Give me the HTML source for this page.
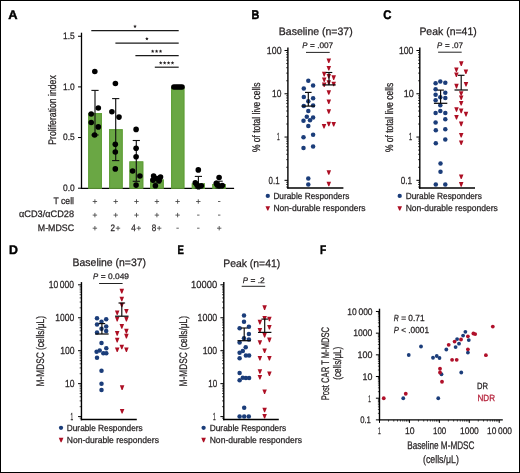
<!DOCTYPE html>
<html><head><meta charset="utf-8"><style>
html,body{margin:0;padding:0;background:#fff;}
svg{display:block;will-change:transform;}
text{font-family:"Liberation Sans",sans-serif;text-rendering:geometricPrecision;}
</style></head><body>
<svg width="520" height="473" viewBox="0 0 520 473">
<rect x="0" y="0" width="520" height="473" fill="#fff"/>
<text x="8.30" y="18.60" font-size="12.5" textLength="9.30" lengthAdjust="spacingAndGlyphs" font-weight="bold" fill="#000" stroke="#000" stroke-width="0.45">A</text>
<line x1="81.50" y1="32.70" x2="81.50" y2="189.00" stroke="#000000" stroke-width="1.3"/>
<line x1="80.90" y1="188.40" x2="234.10" y2="188.40" stroke="#000000" stroke-width="1.3"/>
<line x1="78.00" y1="36.25" x2="81.50" y2="36.25" stroke="#000000" stroke-width="1.0"/>
<text x="63.10" y="38.95" font-size="9.4" textLength="11.70" lengthAdjust="spacingAndGlyphs" fill="#231f20" stroke="#231f20" stroke-width="0.25">1.5</text>
<line x1="78.00" y1="86.90" x2="81.50" y2="86.90" stroke="#000000" stroke-width="1.0"/>
<text x="63.10" y="89.60" font-size="9.4" textLength="11.70" lengthAdjust="spacingAndGlyphs" fill="#231f20" stroke="#231f20" stroke-width="0.25">1.0</text>
<line x1="78.00" y1="137.55" x2="81.50" y2="137.55" stroke="#000000" stroke-width="1.0"/>
<text x="63.10" y="140.25" font-size="9.4" textLength="11.70" lengthAdjust="spacingAndGlyphs" fill="#231f20" stroke="#231f20" stroke-width="0.25">0.5</text>
<line x1="78.00" y1="188.20" x2="81.50" y2="188.20" stroke="#000000" stroke-width="1.0"/>
<text x="63.10" y="190.90" font-size="9.4" textLength="11.70" lengthAdjust="spacingAndGlyphs" fill="#231f20" stroke="#231f20" stroke-width="0.25">0.0</text>
<text transform="translate(55.80,144.70) rotate(-90)" x="0" y="0" font-size="11.0" textLength="69.50" lengthAdjust="spacingAndGlyphs" fill="#231f20" stroke="#231f20" stroke-width="0.25">Proliferation index</text>
<rect x="88.20" y="113.10" width="13.80" height="75.10" fill="#6aa744"/>
<rect x="88.80" y="113.70" width="12.60" height="74.50" fill="none" stroke="#62a03a" stroke-width="1.2"/>
<rect x="109.00" y="129.20" width="13.70" height="59.00" fill="#6aa744"/>
<rect x="109.60" y="129.80" width="12.50" height="58.40" fill="none" stroke="#62a03a" stroke-width="1.2"/>
<rect x="129.40" y="161.40" width="13.90" height="26.80" fill="#6aa744"/>
<rect x="130.00" y="162.00" width="12.70" height="26.20" fill="none" stroke="#62a03a" stroke-width="1.2"/>
<rect x="150.10" y="179.50" width="13.70" height="8.70" fill="#6aa744"/>
<rect x="150.70" y="180.10" width="12.50" height="8.10" fill="none" stroke="#62a03a" stroke-width="1.2"/>
<rect x="171.00" y="87.00" width="13.40" height="101.20" fill="#6aa744"/>
<rect x="171.60" y="87.60" width="12.20" height="100.60" fill="none" stroke="#62a03a" stroke-width="1.2"/>
<rect x="191.80" y="183.40" width="13.20" height="4.80" fill="#6aa744"/>
<rect x="192.40" y="184.00" width="12.00" height="4.20" fill="none" stroke="#62a03a" stroke-width="1.2"/>
<rect x="212.30" y="184.00" width="13.50" height="4.20" fill="#6aa744"/>
<rect x="212.90" y="184.60" width="12.30" height="3.60" fill="none" stroke="#62a03a" stroke-width="1.2"/>
<line x1="95.00" y1="90.40" x2="95.00" y2="135.00" stroke="#111" stroke-width="1.15"/>
<line x1="91.40" y1="90.40" x2="98.60" y2="90.40" stroke="#111" stroke-width="1.1"/>
<line x1="91.40" y1="135.00" x2="98.60" y2="135.00" stroke="#111" stroke-width="1.1"/>
<line x1="115.70" y1="98.60" x2="115.70" y2="160.60" stroke="#111" stroke-width="1.15"/>
<line x1="112.10" y1="98.60" x2="119.30" y2="98.60" stroke="#111" stroke-width="1.1"/>
<line x1="112.10" y1="160.60" x2="119.30" y2="160.60" stroke="#111" stroke-width="1.1"/>
<line x1="136.30" y1="140.50" x2="136.30" y2="181.30" stroke="#111" stroke-width="1.15"/>
<line x1="132.70" y1="140.50" x2="139.90" y2="140.50" stroke="#111" stroke-width="1.1"/>
<line x1="132.70" y1="181.30" x2="139.90" y2="181.30" stroke="#111" stroke-width="1.1"/>
<line x1="157.00" y1="176.50" x2="157.00" y2="183.00" stroke="#111" stroke-width="1.15"/>
<line x1="153.40" y1="176.50" x2="160.60" y2="176.50" stroke="#111" stroke-width="1.1"/>
<line x1="153.40" y1="183.00" x2="160.60" y2="183.00" stroke="#111" stroke-width="1.1"/>
<line x1="198.40" y1="176.40" x2="198.40" y2="188.00" stroke="#111" stroke-width="1.15"/>
<line x1="194.80" y1="176.40" x2="202.00" y2="176.40" stroke="#111" stroke-width="1.1"/>
<line x1="194.80" y1="188.00" x2="202.00" y2="188.00" stroke="#111" stroke-width="1.1"/>
<line x1="219.10" y1="181.20" x2="219.10" y2="188.00" stroke="#111" stroke-width="1.15"/>
<line x1="215.50" y1="181.20" x2="222.70" y2="181.20" stroke="#111" stroke-width="1.1"/>
<line x1="215.50" y1="188.00" x2="222.70" y2="188.00" stroke="#111" stroke-width="1.1"/>
<circle cx="94.80" cy="71.50" r="2.8" fill="#000000"/>
<circle cx="98.30" cy="108.00" r="2.8" fill="#000000"/>
<circle cx="91.20" cy="114.00" r="2.8" fill="#000000"/>
<circle cx="91.20" cy="122.50" r="2.8" fill="#000000"/>
<circle cx="98.30" cy="126.90" r="2.8" fill="#000000"/>
<circle cx="94.60" cy="135.00" r="2.8" fill="#000000"/>
<circle cx="115.40" cy="83.50" r="2.8" fill="#000000"/>
<circle cx="111.90" cy="111.70" r="2.8" fill="#000000"/>
<circle cx="119.00" cy="117.10" r="2.8" fill="#000000"/>
<circle cx="115.30" cy="144.20" r="2.8" fill="#000000"/>
<circle cx="115.30" cy="152.00" r="2.8" fill="#000000"/>
<circle cx="115.30" cy="168.90" r="2.8" fill="#000000"/>
<circle cx="136.10" cy="129.40" r="2.8" fill="#000000"/>
<circle cx="136.10" cy="148.20" r="2.8" fill="#000000"/>
<circle cx="136.10" cy="156.80" r="2.8" fill="#000000"/>
<circle cx="132.60" cy="171.00" r="2.8" fill="#000000"/>
<circle cx="139.90" cy="176.00" r="2.8" fill="#000000"/>
<circle cx="136.10" cy="185.10" r="2.8" fill="#000000"/>
<circle cx="153.60" cy="176.00" r="2.8" fill="#000000"/>
<circle cx="160.50" cy="177.10" r="2.8" fill="#000000"/>
<circle cx="152.90" cy="180.10" r="2.8" fill="#000000"/>
<circle cx="159.20" cy="180.60" r="2.8" fill="#000000"/>
<circle cx="156.70" cy="178.60" r="2.8" fill="#000000"/>
<circle cx="155.40" cy="185.80" r="2.8" fill="#000000"/>
<circle cx="173.90" cy="87.00" r="2.8" fill="#000000"/>
<circle cx="176.00" cy="87.00" r="2.8" fill="#000000"/>
<circle cx="178.00" cy="87.00" r="2.8" fill="#000000"/>
<circle cx="180.00" cy="87.00" r="2.8" fill="#000000"/>
<circle cx="182.00" cy="87.00" r="2.8" fill="#000000"/>
<circle cx="198.30" cy="169.90" r="2.8" fill="#000000"/>
<circle cx="195.30" cy="182.80" r="2.8" fill="#000000"/>
<circle cx="196.90" cy="184.80" r="2.8" fill="#000000"/>
<circle cx="198.50" cy="186.80" r="2.8" fill="#000000"/>
<circle cx="201.30" cy="185.80" r="2.8" fill="#000000"/>
<circle cx="219.10" cy="177.50" r="2.8" fill="#000000"/>
<circle cx="216.30" cy="183.20" r="2.8" fill="#000000"/>
<circle cx="217.10" cy="184.80" r="2.8" fill="#000000"/>
<circle cx="219.10" cy="186.00" r="2.8" fill="#000000"/>
<circle cx="222.30" cy="185.60" r="2.8" fill="#000000"/>
<line x1="91.30" y1="30.70" x2="178.70" y2="30.70" stroke="#1a1a1a" stroke-width="1.2"/>
<polygon points="135.00,24.55 135.50,25.71 136.76,25.83 135.81,26.66 136.09,27.90 135.00,27.25 133.91,27.90 134.19,26.66 133.24,25.83 134.50,25.71" fill="#231f20"/>
<line x1="115.40" y1="43.10" x2="178.70" y2="43.10" stroke="#1a1a1a" stroke-width="1.2"/>
<polygon points="146.90,36.95 147.40,38.11 148.66,38.23 147.71,39.06 147.99,40.30 146.90,39.65 145.81,40.30 146.09,39.06 145.14,38.23 146.40,38.11" fill="#231f20"/>
<line x1="135.40" y1="55.60" x2="178.70" y2="55.60" stroke="#1a1a1a" stroke-width="1.2"/>
<polygon points="152.67,49.45 153.17,50.61 154.43,50.73 153.48,51.56 153.76,52.80 152.67,52.15 151.58,52.80 151.86,51.56 150.91,50.73 152.17,50.61" fill="#231f20"/>
<polygon points="156.60,49.45 157.10,50.61 158.36,50.73 157.41,51.56 157.69,52.80 156.60,52.15 155.51,52.80 155.79,51.56 154.84,50.73 156.10,50.61" fill="#231f20"/>
<polygon points="160.53,49.45 161.03,50.61 162.29,50.73 161.34,51.56 161.62,52.80 160.53,52.15 159.44,52.80 159.72,51.56 158.77,50.73 160.03,50.61" fill="#231f20"/>
<line x1="154.80" y1="67.20" x2="178.70" y2="67.20" stroke="#1a1a1a" stroke-width="1.2"/>
<polygon points="160.70,61.05 161.20,62.21 162.46,62.33 161.51,63.16 161.79,64.40 160.70,63.75 159.62,64.40 159.90,63.16 158.95,62.33 160.21,62.21" fill="#231f20"/>
<polygon points="164.63,61.05 165.13,62.21 166.39,62.33 165.44,63.16 165.72,64.40 164.63,63.75 163.55,64.40 163.83,63.16 162.88,62.33 164.14,62.21" fill="#231f20"/>
<polygon points="168.56,61.05 169.06,62.21 170.32,62.33 169.37,63.16 169.65,64.40 168.56,63.75 167.48,64.40 167.76,63.16 166.81,62.33 168.07,62.21" fill="#231f20"/>
<polygon points="172.50,61.05 172.99,62.21 174.25,62.33 173.30,63.16 173.58,64.40 172.50,63.75 171.41,64.40 171.69,63.16 170.74,62.33 172.00,62.21" fill="#231f20"/>
<text x="53.50" y="203.90" font-size="9.4" textLength="20.50" lengthAdjust="spacingAndGlyphs" fill="#231f20" stroke="#231f20" stroke-width="0.25">T cell</text>
<text x="19.00" y="217.40" font-size="9.4" textLength="55.00" lengthAdjust="spacingAndGlyphs" fill="#231f20" stroke="#231f20" stroke-width="0.25">αCD3/αCD28</text>
<text x="37.80" y="230.70" font-size="9.4" textLength="36.20" lengthAdjust="spacingAndGlyphs" fill="#231f20" stroke="#231f20" stroke-width="0.25">M-MDSC</text>
<line x1="92.70" y1="201.50" x2="97.10" y2="201.50" stroke="#444" stroke-width="0.85"/>
<line x1="94.90" y1="199.30" x2="94.90" y2="203.70" stroke="#444" stroke-width="0.85"/>
<line x1="113.50" y1="201.50" x2="117.90" y2="201.50" stroke="#444" stroke-width="0.85"/>
<line x1="115.70" y1="199.30" x2="115.70" y2="203.70" stroke="#444" stroke-width="0.85"/>
<line x1="134.30" y1="201.50" x2="138.70" y2="201.50" stroke="#444" stroke-width="0.85"/>
<line x1="136.50" y1="199.30" x2="136.50" y2="203.70" stroke="#444" stroke-width="0.85"/>
<line x1="154.70" y1="201.50" x2="159.10" y2="201.50" stroke="#444" stroke-width="0.85"/>
<line x1="156.90" y1="199.30" x2="156.90" y2="203.70" stroke="#444" stroke-width="0.85"/>
<line x1="175.40" y1="201.50" x2="179.80" y2="201.50" stroke="#444" stroke-width="0.85"/>
<line x1="177.60" y1="199.30" x2="177.60" y2="203.70" stroke="#444" stroke-width="0.85"/>
<line x1="196.10" y1="201.50" x2="200.50" y2="201.50" stroke="#444" stroke-width="0.85"/>
<line x1="198.30" y1="199.30" x2="198.30" y2="203.70" stroke="#444" stroke-width="0.85"/>
<line x1="218.00" y1="201.50" x2="220.40" y2="201.50" stroke="#444" stroke-width="0.85"/>
<line x1="92.70" y1="215.10" x2="97.10" y2="215.10" stroke="#444" stroke-width="0.85"/>
<line x1="94.90" y1="212.90" x2="94.90" y2="217.30" stroke="#444" stroke-width="0.85"/>
<line x1="113.50" y1="215.10" x2="117.90" y2="215.10" stroke="#444" stroke-width="0.85"/>
<line x1="115.70" y1="212.90" x2="115.70" y2="217.30" stroke="#444" stroke-width="0.85"/>
<line x1="134.30" y1="215.10" x2="138.70" y2="215.10" stroke="#444" stroke-width="0.85"/>
<line x1="136.50" y1="212.90" x2="136.50" y2="217.30" stroke="#444" stroke-width="0.85"/>
<line x1="154.70" y1="215.10" x2="159.10" y2="215.10" stroke="#444" stroke-width="0.85"/>
<line x1="156.90" y1="212.90" x2="156.90" y2="217.30" stroke="#444" stroke-width="0.85"/>
<line x1="175.40" y1="215.10" x2="179.80" y2="215.10" stroke="#444" stroke-width="0.85"/>
<line x1="177.60" y1="212.90" x2="177.60" y2="217.30" stroke="#444" stroke-width="0.85"/>
<line x1="197.10" y1="215.10" x2="199.50" y2="215.10" stroke="#444" stroke-width="0.85"/>
<line x1="218.00" y1="215.10" x2="220.40" y2="215.10" stroke="#444" stroke-width="0.85"/>
<line x1="92.70" y1="228.20" x2="97.10" y2="228.20" stroke="#444" stroke-width="0.85"/>
<line x1="94.90" y1="226.00" x2="94.90" y2="230.40" stroke="#444" stroke-width="0.85"/>
<text x="110.50" y="230.80" font-size="9.4" textLength="4.50" lengthAdjust="spacingAndGlyphs" fill="#231f20" stroke="#231f20" stroke-width="0.25">2</text>
<line x1="115.80" y1="228.20" x2="120.20" y2="228.20" stroke="#444" stroke-width="0.85"/>
<line x1="118.00" y1="226.00" x2="118.00" y2="230.40" stroke="#444" stroke-width="0.85"/>
<text x="131.30" y="230.80" font-size="9.4" textLength="4.50" lengthAdjust="spacingAndGlyphs" fill="#231f20" stroke="#231f20" stroke-width="0.25">4</text>
<line x1="136.60" y1="228.20" x2="141.00" y2="228.20" stroke="#444" stroke-width="0.85"/>
<line x1="138.80" y1="226.00" x2="138.80" y2="230.40" stroke="#444" stroke-width="0.85"/>
<text x="151.70" y="230.80" font-size="9.4" textLength="4.50" lengthAdjust="spacingAndGlyphs" fill="#231f20" stroke="#231f20" stroke-width="0.25">8</text>
<line x1="157.00" y1="228.20" x2="161.40" y2="228.20" stroke="#444" stroke-width="0.85"/>
<line x1="159.20" y1="226.00" x2="159.20" y2="230.40" stroke="#444" stroke-width="0.85"/>
<line x1="176.40" y1="228.20" x2="178.80" y2="228.20" stroke="#444" stroke-width="0.85"/>
<line x1="197.10" y1="228.20" x2="199.50" y2="228.20" stroke="#444" stroke-width="0.85"/>
<line x1="217.00" y1="228.20" x2="221.40" y2="228.20" stroke="#444" stroke-width="0.85"/>
<line x1="219.20" y1="226.00" x2="219.20" y2="230.40" stroke="#444" stroke-width="0.85"/>
<text x="251.40" y="18.80" font-size="12.6" textLength="7.80" lengthAdjust="spacingAndGlyphs" font-weight="bold" fill="#000" stroke="#000" stroke-width="0.45">B</text>
<text x="278.80" y="34.95" font-size="10.8" textLength="73.90" lengthAdjust="spacingAndGlyphs" fill="#231f20" stroke="#231f20" stroke-width="0.25">Baseline (n=37)</text>
<text x="302.30" y="47.65" font-size="8.0" textLength="5.20" lengthAdjust="spacingAndGlyphs" font-style="italic" fill="#231f20" stroke="#231f20" stroke-width="0.25">P</text>
<text x="310.10" y="47.65" font-size="8.0" textLength="23.10" lengthAdjust="spacingAndGlyphs" fill="#231f20" stroke="#231f20" stroke-width="0.25">= .007</text>
<line x1="306.00" y1="52.40" x2="329.70" y2="52.40" stroke="#222" stroke-width="1.0"/>
<line x1="287.90" y1="47.60" x2="287.90" y2="188.60" stroke="#000000" stroke-width="1.4"/>
<line x1="286.10" y1="187.02" x2="287.90" y2="187.02" stroke="#000000" stroke-width="0.7"/>
<line x1="286.10" y1="184.51" x2="287.90" y2="184.51" stroke="#000000" stroke-width="0.7"/>
<line x1="286.10" y1="182.30" x2="287.90" y2="182.30" stroke="#000000" stroke-width="0.7"/>
<line x1="284.50" y1="180.32" x2="287.90" y2="180.32" stroke="#000000" stroke-width="1.0"/>
<line x1="286.10" y1="167.29" x2="287.90" y2="167.29" stroke="#000000" stroke-width="0.7"/>
<line x1="286.10" y1="159.67" x2="287.90" y2="159.67" stroke="#000000" stroke-width="0.7"/>
<line x1="286.10" y1="154.27" x2="287.90" y2="154.27" stroke="#000000" stroke-width="0.7"/>
<line x1="286.10" y1="150.08" x2="287.90" y2="150.08" stroke="#000000" stroke-width="0.7"/>
<line x1="286.10" y1="146.65" x2="287.90" y2="146.65" stroke="#000000" stroke-width="0.7"/>
<line x1="286.10" y1="143.75" x2="287.90" y2="143.75" stroke="#000000" stroke-width="0.7"/>
<line x1="286.10" y1="141.24" x2="287.90" y2="141.24" stroke="#000000" stroke-width="0.7"/>
<line x1="286.10" y1="139.03" x2="287.90" y2="139.03" stroke="#000000" stroke-width="0.7"/>
<line x1="284.50" y1="137.05" x2="287.90" y2="137.05" stroke="#000000" stroke-width="1.0"/>
<line x1="286.10" y1="124.02" x2="287.90" y2="124.02" stroke="#000000" stroke-width="0.7"/>
<line x1="286.10" y1="116.40" x2="287.90" y2="116.40" stroke="#000000" stroke-width="0.7"/>
<line x1="286.10" y1="111.00" x2="287.90" y2="111.00" stroke="#000000" stroke-width="0.7"/>
<line x1="286.10" y1="106.81" x2="287.90" y2="106.81" stroke="#000000" stroke-width="0.7"/>
<line x1="286.10" y1="103.38" x2="287.90" y2="103.38" stroke="#000000" stroke-width="0.7"/>
<line x1="286.10" y1="100.48" x2="287.90" y2="100.48" stroke="#000000" stroke-width="0.7"/>
<line x1="286.10" y1="97.97" x2="287.90" y2="97.97" stroke="#000000" stroke-width="0.7"/>
<line x1="286.10" y1="95.76" x2="287.90" y2="95.76" stroke="#000000" stroke-width="0.7"/>
<line x1="284.50" y1="93.78" x2="287.90" y2="93.78" stroke="#000000" stroke-width="1.0"/>
<line x1="286.10" y1="80.75" x2="287.90" y2="80.75" stroke="#000000" stroke-width="0.7"/>
<line x1="286.10" y1="73.13" x2="287.90" y2="73.13" stroke="#000000" stroke-width="0.7"/>
<line x1="286.10" y1="67.73" x2="287.90" y2="67.73" stroke="#000000" stroke-width="0.7"/>
<line x1="286.10" y1="63.54" x2="287.90" y2="63.54" stroke="#000000" stroke-width="0.7"/>
<line x1="286.10" y1="60.11" x2="287.90" y2="60.11" stroke="#000000" stroke-width="0.7"/>
<line x1="286.10" y1="57.21" x2="287.90" y2="57.21" stroke="#000000" stroke-width="0.7"/>
<line x1="286.10" y1="54.70" x2="287.90" y2="54.70" stroke="#000000" stroke-width="0.7"/>
<line x1="286.10" y1="52.49" x2="287.90" y2="52.49" stroke="#000000" stroke-width="0.7"/>
<line x1="284.50" y1="50.51" x2="287.90" y2="50.51" stroke="#000000" stroke-width="1.0"/>
<text x="266.80" y="53.81" font-size="10.3" textLength="14.80" lengthAdjust="spacingAndGlyphs" fill="#231f20" stroke="#231f20" stroke-width="0.25">100</text>
<text x="272.00" y="97.08" font-size="10.3" textLength="9.40" lengthAdjust="spacingAndGlyphs" fill="#231f20" stroke="#231f20" stroke-width="0.25">10</text>
<text x="276.90" y="140.35" font-size="10.3" textLength="2.70" lengthAdjust="spacingAndGlyphs" fill="#231f20" stroke="#231f20" stroke-width="0.25">1</text>
<text x="268.60" y="183.62" font-size="10.3" textLength="11.00" lengthAdjust="spacingAndGlyphs" fill="#231f20" stroke="#231f20" stroke-width="0.25">0.1</text>
<line x1="287.20" y1="187.90" x2="343.40" y2="187.90" stroke="#000000" stroke-width="1.5"/>
<text transform="translate(259.90,152.00) rotate(-90)" x="0" y="0" font-size="11.0" textLength="69.40" lengthAdjust="spacingAndGlyphs" fill="#231f20" stroke="#231f20" stroke-width="0.25">% of total live cells</text>
<circle cx="308.30" cy="80.75" r="2.25" fill="#1b3d7a"/>
<circle cx="313.10" cy="85.55" r="2.25" fill="#1b3d7a"/>
<circle cx="303.80" cy="88.55" r="2.25" fill="#1b3d7a"/>
<circle cx="303.80" cy="96.95" r="2.25" fill="#1b3d7a"/>
<circle cx="313.10" cy="98.35" r="2.25" fill="#1b3d7a"/>
<circle cx="308.30" cy="101.15" r="2.25" fill="#1b3d7a"/>
<circle cx="303.80" cy="105.95" r="2.25" fill="#1b3d7a"/>
<circle cx="313.10" cy="105.55" r="2.25" fill="#1b3d7a"/>
<circle cx="308.30" cy="110.95" r="2.25" fill="#1b3d7a"/>
<circle cx="306.80" cy="116.85" r="2.25" fill="#1b3d7a"/>
<circle cx="313.10" cy="117.45" r="2.25" fill="#1b3d7a"/>
<circle cx="303.50" cy="120.75" r="2.25" fill="#1b3d7a"/>
<circle cx="310.00" cy="120.25" r="2.25" fill="#1b3d7a"/>
<circle cx="308.30" cy="126.05" r="2.25" fill="#1b3d7a"/>
<circle cx="303.50" cy="137.25" r="2.25" fill="#1b3d7a"/>
<circle cx="313.10" cy="134.85" r="2.25" fill="#1b3d7a"/>
<circle cx="303.50" cy="147.95" r="2.25" fill="#1b3d7a"/>
<circle cx="313.10" cy="146.45" r="2.25" fill="#1b3d7a"/>
<circle cx="308.30" cy="178.55" r="2.25" fill="#1b3d7a"/>
<circle cx="308.30" cy="184.45" r="2.25" fill="#1b3d7a"/>
<path d="M326.55,58.40L331.05,58.40L329.25,63.00L328.35,63.00Z" fill="#ad0f24"/>
<path d="M326.55,66.00L331.05,66.00L329.25,70.60L328.35,70.60Z" fill="#ad0f24"/>
<path d="M321.95,71.80L326.45,71.80L324.65,76.40L323.75,76.40Z" fill="#ad0f24"/>
<path d="M326.55,74.00L331.05,74.00L329.25,78.60L328.35,78.60Z" fill="#ad0f24"/>
<path d="M331.45,75.30L335.95,75.30L334.15,79.90L333.25,79.90Z" fill="#ad0f24"/>
<path d="M321.95,77.40L326.45,77.40L324.65,82.00L323.75,82.00Z" fill="#ad0f24"/>
<path d="M326.55,80.20L331.05,80.20L329.25,84.80L328.35,84.80Z" fill="#ad0f24"/>
<path d="M331.45,81.70L335.95,81.70L334.15,86.30L333.25,86.30Z" fill="#ad0f24"/>
<path d="M321.95,82.50L326.45,82.50L324.65,87.10L323.75,87.10Z" fill="#ad0f24"/>
<path d="M326.55,90.20L331.05,90.20L329.25,94.80L328.35,94.80Z" fill="#ad0f24"/>
<path d="M326.55,99.40L331.05,99.40L329.25,104.00L328.35,104.00Z" fill="#ad0f24"/>
<path d="M326.55,109.20L331.05,109.20L329.25,113.80L328.35,113.80Z" fill="#ad0f24"/>
<path d="M321.75,124.00L326.25,124.00L324.45,128.60L323.55,128.60Z" fill="#ad0f24"/>
<path d="M326.55,121.70L331.05,121.70L329.25,126.30L328.35,126.30Z" fill="#ad0f24"/>
<path d="M331.45,122.00L335.95,122.00L334.15,126.60L333.25,126.60Z" fill="#ad0f24"/>
<path d="M326.55,170.20L331.05,170.20L329.25,174.80L328.35,174.80Z" fill="#ad0f24"/>
<path d="M326.55,181.70L331.05,181.70L329.25,186.30L328.35,186.30Z" fill="#ad0f24"/>
<line x1="308.30" y1="92.40" x2="308.30" y2="106.10" stroke="#0a0a0a" stroke-width="1.15"/>
<line x1="305.00" y1="92.40" x2="311.60" y2="92.40" stroke="#0a0a0a" stroke-width="1.15"/>
<line x1="301.60" y1="106.10" x2="315.00" y2="106.10" stroke="#0a0a0a" stroke-width="1.25"/>
<line x1="329.00" y1="72.50" x2="329.00" y2="84.90" stroke="#0a0a0a" stroke-width="1.15"/>
<line x1="325.70" y1="72.50" x2="332.30" y2="72.50" stroke="#0a0a0a" stroke-width="1.15"/>
<line x1="322.30" y1="84.90" x2="335.70" y2="84.90" stroke="#0a0a0a" stroke-width="1.25"/>
<circle cx="267.80" cy="195.90" r="2.15" fill="#1b3d7a"/>
<text x="273.40" y="198.80" font-size="8.9" textLength="75.90" lengthAdjust="spacingAndGlyphs" fill="#231f20" stroke="#231f20" stroke-width="0.25">Durable Responders</text>
<path d="M265.50,206.15L270.10,206.15L268.25,210.45L267.35,210.45Z" fill="#ad0f24"/>
<text x="273.40" y="211.10" font-size="8.9" textLength="92.20" lengthAdjust="spacingAndGlyphs" fill="#231f20" stroke="#231f20" stroke-width="0.25">Non-durable responders</text>
<text x="383.30" y="18.80" font-size="12.6" textLength="8.20" lengthAdjust="spacingAndGlyphs" font-weight="bold" fill="#000" stroke="#000" stroke-width="0.45">C</text>
<text x="419.40" y="34.90" font-size="10.8" textLength="57.30" lengthAdjust="spacingAndGlyphs" fill="#231f20" stroke="#231f20" stroke-width="0.25">Peak (n=41)</text>
<text x="437.10" y="47.65" font-size="8.0" textLength="5.20" lengthAdjust="spacingAndGlyphs" font-style="italic" fill="#231f20" stroke="#231f20" stroke-width="0.25">P</text>
<text x="444.90" y="47.65" font-size="8.0" textLength="18.20" lengthAdjust="spacingAndGlyphs" fill="#231f20" stroke="#231f20" stroke-width="0.25">= .07</text>
<line x1="438.10" y1="52.20" x2="461.70" y2="52.20" stroke="#222" stroke-width="1.0"/>
<line x1="419.80" y1="47.60" x2="419.80" y2="188.80" stroke="#000000" stroke-width="1.4"/>
<line x1="418.00" y1="187.02" x2="419.80" y2="187.02" stroke="#000000" stroke-width="0.7"/>
<line x1="418.00" y1="184.51" x2="419.80" y2="184.51" stroke="#000000" stroke-width="0.7"/>
<line x1="418.00" y1="182.30" x2="419.80" y2="182.30" stroke="#000000" stroke-width="0.7"/>
<line x1="416.40" y1="180.32" x2="419.80" y2="180.32" stroke="#000000" stroke-width="1.0"/>
<line x1="418.00" y1="167.29" x2="419.80" y2="167.29" stroke="#000000" stroke-width="0.7"/>
<line x1="418.00" y1="159.67" x2="419.80" y2="159.67" stroke="#000000" stroke-width="0.7"/>
<line x1="418.00" y1="154.27" x2="419.80" y2="154.27" stroke="#000000" stroke-width="0.7"/>
<line x1="418.00" y1="150.08" x2="419.80" y2="150.08" stroke="#000000" stroke-width="0.7"/>
<line x1="418.00" y1="146.65" x2="419.80" y2="146.65" stroke="#000000" stroke-width="0.7"/>
<line x1="418.00" y1="143.75" x2="419.80" y2="143.75" stroke="#000000" stroke-width="0.7"/>
<line x1="418.00" y1="141.24" x2="419.80" y2="141.24" stroke="#000000" stroke-width="0.7"/>
<line x1="418.00" y1="139.03" x2="419.80" y2="139.03" stroke="#000000" stroke-width="0.7"/>
<line x1="416.40" y1="137.05" x2="419.80" y2="137.05" stroke="#000000" stroke-width="1.0"/>
<line x1="418.00" y1="124.02" x2="419.80" y2="124.02" stroke="#000000" stroke-width="0.7"/>
<line x1="418.00" y1="116.40" x2="419.80" y2="116.40" stroke="#000000" stroke-width="0.7"/>
<line x1="418.00" y1="111.00" x2="419.80" y2="111.00" stroke="#000000" stroke-width="0.7"/>
<line x1="418.00" y1="106.81" x2="419.80" y2="106.81" stroke="#000000" stroke-width="0.7"/>
<line x1="418.00" y1="103.38" x2="419.80" y2="103.38" stroke="#000000" stroke-width="0.7"/>
<line x1="418.00" y1="100.48" x2="419.80" y2="100.48" stroke="#000000" stroke-width="0.7"/>
<line x1="418.00" y1="97.97" x2="419.80" y2="97.97" stroke="#000000" stroke-width="0.7"/>
<line x1="418.00" y1="95.76" x2="419.80" y2="95.76" stroke="#000000" stroke-width="0.7"/>
<line x1="416.40" y1="93.78" x2="419.80" y2="93.78" stroke="#000000" stroke-width="1.0"/>
<line x1="418.00" y1="80.75" x2="419.80" y2="80.75" stroke="#000000" stroke-width="0.7"/>
<line x1="418.00" y1="73.13" x2="419.80" y2="73.13" stroke="#000000" stroke-width="0.7"/>
<line x1="418.00" y1="67.73" x2="419.80" y2="67.73" stroke="#000000" stroke-width="0.7"/>
<line x1="418.00" y1="63.54" x2="419.80" y2="63.54" stroke="#000000" stroke-width="0.7"/>
<line x1="418.00" y1="60.11" x2="419.80" y2="60.11" stroke="#000000" stroke-width="0.7"/>
<line x1="418.00" y1="57.21" x2="419.80" y2="57.21" stroke="#000000" stroke-width="0.7"/>
<line x1="418.00" y1="54.70" x2="419.80" y2="54.70" stroke="#000000" stroke-width="0.7"/>
<line x1="418.00" y1="52.49" x2="419.80" y2="52.49" stroke="#000000" stroke-width="0.7"/>
<line x1="416.40" y1="50.51" x2="419.80" y2="50.51" stroke="#000000" stroke-width="1.0"/>
<text x="398.90" y="53.81" font-size="10.3" textLength="14.60" lengthAdjust="spacingAndGlyphs" fill="#231f20" stroke="#231f20" stroke-width="0.25">100</text>
<text x="403.70" y="97.08" font-size="10.3" textLength="10.10" lengthAdjust="spacingAndGlyphs" fill="#231f20" stroke="#231f20" stroke-width="0.25">10</text>
<text x="409.00" y="140.35" font-size="10.3" textLength="3.10" lengthAdjust="spacingAndGlyphs" fill="#231f20" stroke="#231f20" stroke-width="0.25">1</text>
<text x="400.70" y="183.62" font-size="10.3" textLength="11.40" lengthAdjust="spacingAndGlyphs" fill="#231f20" stroke="#231f20" stroke-width="0.25">0.1</text>
<line x1="419.10" y1="188.10" x2="475.00" y2="188.10" stroke="#000000" stroke-width="1.5"/>
<text transform="translate(392.50,152.00) rotate(-90)" x="0" y="0" font-size="11.0" textLength="69.20" lengthAdjust="spacingAndGlyphs" fill="#231f20" stroke="#231f20" stroke-width="0.25">% of total live cells</text>
<circle cx="435.60" cy="83.15" r="2.25" fill="#1b3d7a"/>
<circle cx="440.30" cy="81.55" r="2.25" fill="#1b3d7a"/>
<circle cx="445.30" cy="82.85" r="2.25" fill="#1b3d7a"/>
<circle cx="435.60" cy="89.25" r="2.25" fill="#1b3d7a"/>
<circle cx="445.30" cy="92.65" r="2.25" fill="#1b3d7a"/>
<circle cx="435.60" cy="94.85" r="2.25" fill="#1b3d7a"/>
<circle cx="440.30" cy="97.25" r="2.25" fill="#1b3d7a"/>
<circle cx="445.30" cy="97.95" r="2.25" fill="#1b3d7a"/>
<circle cx="435.60" cy="100.35" r="2.25" fill="#1b3d7a"/>
<circle cx="440.30" cy="105.35" r="2.25" fill="#1b3d7a"/>
<circle cx="440.30" cy="110.95" r="2.25" fill="#1b3d7a"/>
<circle cx="435.60" cy="113.05" r="2.25" fill="#1b3d7a"/>
<circle cx="445.30" cy="113.05" r="2.25" fill="#1b3d7a"/>
<circle cx="445.30" cy="119.15" r="2.25" fill="#1b3d7a"/>
<circle cx="435.60" cy="122.45" r="2.25" fill="#1b3d7a"/>
<circle cx="435.80" cy="130.15" r="2.25" fill="#1b3d7a"/>
<circle cx="445.30" cy="129.15" r="2.25" fill="#1b3d7a"/>
<circle cx="445.30" cy="139.45" r="2.25" fill="#1b3d7a"/>
<circle cx="435.80" cy="143.15" r="2.25" fill="#1b3d7a"/>
<circle cx="440.50" cy="163.45" r="2.25" fill="#1b3d7a"/>
<circle cx="440.50" cy="171.75" r="2.25" fill="#1b3d7a"/>
<circle cx="435.80" cy="184.55" r="2.25" fill="#1b3d7a"/>
<circle cx="445.30" cy="184.55" r="2.25" fill="#1b3d7a"/>
<path d="M459.05,61.30L463.55,61.30L461.75,65.90L460.85,65.90Z" fill="#ad0f24"/>
<path d="M454.15,67.40L458.65,67.40L456.85,72.00L455.95,72.00Z" fill="#ad0f24"/>
<path d="M463.65,69.50L468.15,69.50L466.35,74.10L465.45,74.10Z" fill="#ad0f24"/>
<path d="M454.15,72.40L458.65,72.40L456.85,77.00L455.95,77.00Z" fill="#ad0f24"/>
<path d="M463.75,81.90L468.25,81.90L466.45,86.50L465.55,86.50Z" fill="#ad0f24"/>
<path d="M454.25,83.80L458.75,83.80L456.95,88.40L456.05,88.40Z" fill="#ad0f24"/>
<path d="M458.95,91.20L463.45,91.20L461.65,95.80L460.75,95.80Z" fill="#ad0f24"/>
<path d="M458.95,95.40L463.45,95.40L461.65,100.00L460.75,100.00Z" fill="#ad0f24"/>
<path d="M458.95,100.90L463.45,100.90L461.65,105.50L460.75,105.50Z" fill="#ad0f24"/>
<path d="M454.25,107.20L458.75,107.20L456.95,111.80L456.05,111.80Z" fill="#ad0f24"/>
<path d="M458.95,108.60L463.45,108.60L461.65,113.20L460.75,113.20Z" fill="#ad0f24"/>
<path d="M463.75,111.80L468.25,111.80L466.45,116.40L465.55,116.40Z" fill="#ad0f24"/>
<path d="M454.25,115.00L458.75,115.00L456.95,119.60L456.05,119.60Z" fill="#ad0f24"/>
<path d="M458.95,121.60L463.45,121.60L461.65,126.20L460.75,126.20Z" fill="#ad0f24"/>
<path d="M458.95,133.00L463.45,133.00L461.65,137.60L460.75,137.60Z" fill="#ad0f24"/>
<path d="M458.95,140.40L463.45,140.40L461.65,145.00L460.75,145.00Z" fill="#ad0f24"/>
<path d="M458.95,174.40L463.45,174.40L461.65,179.00L460.75,179.00Z" fill="#ad0f24"/>
<path d="M458.95,182.10L463.45,182.10L461.65,186.70L460.75,186.70Z" fill="#ad0f24"/>
<line x1="440.60" y1="90.10" x2="440.60" y2="103.30" stroke="#0a0a0a" stroke-width="1.15"/>
<line x1="437.30" y1="90.10" x2="443.90" y2="90.10" stroke="#0a0a0a" stroke-width="1.15"/>
<line x1="433.90" y1="103.30" x2="447.30" y2="103.30" stroke="#0a0a0a" stroke-width="1.25"/>
<line x1="461.20" y1="75.30" x2="461.20" y2="90.00" stroke="#0a0a0a" stroke-width="1.15"/>
<line x1="457.90" y1="75.30" x2="464.50" y2="75.30" stroke="#0a0a0a" stroke-width="1.15"/>
<line x1="454.50" y1="90.00" x2="467.90" y2="90.00" stroke="#0a0a0a" stroke-width="1.25"/>
<circle cx="399.70" cy="195.90" r="2.15" fill="#1b3d7a"/>
<text x="405.70" y="198.80" font-size="8.9" textLength="76.10" lengthAdjust="spacingAndGlyphs" fill="#231f20" stroke="#231f20" stroke-width="0.25">Durable Responders</text>
<path d="M397.40,206.15L402.00,206.15L400.15,210.45L399.25,210.45Z" fill="#ad0f24"/>
<text x="405.70" y="211.10" font-size="8.9" textLength="92.10" lengthAdjust="spacingAndGlyphs" fill="#231f20" stroke="#231f20" stroke-width="0.25">Non-durable responders</text>
<text x="9.10" y="253.70" font-size="12.5" textLength="8.90" lengthAdjust="spacingAndGlyphs" font-weight="bold" fill="#000" stroke="#000" stroke-width="0.45">D</text>
<text x="72.60" y="266.40" font-size="10.8" textLength="73.40" lengthAdjust="spacingAndGlyphs" fill="#231f20" stroke="#231f20" stroke-width="0.25">Baseline (n=37)</text>
<text x="93.00" y="279.30" font-size="8.0" textLength="5.20" lengthAdjust="spacingAndGlyphs" font-style="italic" fill="#231f20" stroke="#231f20" stroke-width="0.25">P</text>
<text x="100.80" y="279.30" font-size="8.0" textLength="28.20" lengthAdjust="spacingAndGlyphs" fill="#231f20" stroke="#231f20" stroke-width="0.25">= 0.049</text>
<line x1="99.10" y1="283.50" x2="122.60" y2="283.50" stroke="#222" stroke-width="1.0"/>
<line x1="81.45" y1="282.10" x2="81.45" y2="420.30" stroke="#000000" stroke-width="1.4"/>
<line x1="79.65" y1="418.11" x2="81.45" y2="418.11" stroke="#000000" stroke-width="0.7"/>
<line x1="78.05" y1="416.60" x2="81.45" y2="416.60" stroke="#000000" stroke-width="1.0"/>
<line x1="79.65" y1="406.68" x2="81.45" y2="406.68" stroke="#000000" stroke-width="0.7"/>
<line x1="79.65" y1="400.88" x2="81.45" y2="400.88" stroke="#000000" stroke-width="0.7"/>
<line x1="79.65" y1="396.76" x2="81.45" y2="396.76" stroke="#000000" stroke-width="0.7"/>
<line x1="79.65" y1="393.57" x2="81.45" y2="393.57" stroke="#000000" stroke-width="0.7"/>
<line x1="79.65" y1="390.96" x2="81.45" y2="390.96" stroke="#000000" stroke-width="0.7"/>
<line x1="79.65" y1="388.75" x2="81.45" y2="388.75" stroke="#000000" stroke-width="0.7"/>
<line x1="79.65" y1="386.84" x2="81.45" y2="386.84" stroke="#000000" stroke-width="0.7"/>
<line x1="79.65" y1="385.16" x2="81.45" y2="385.16" stroke="#000000" stroke-width="0.7"/>
<line x1="78.05" y1="383.65" x2="81.45" y2="383.65" stroke="#000000" stroke-width="1.0"/>
<line x1="79.65" y1="373.73" x2="81.45" y2="373.73" stroke="#000000" stroke-width="0.7"/>
<line x1="79.65" y1="367.93" x2="81.45" y2="367.93" stroke="#000000" stroke-width="0.7"/>
<line x1="79.65" y1="363.81" x2="81.45" y2="363.81" stroke="#000000" stroke-width="0.7"/>
<line x1="79.65" y1="360.62" x2="81.45" y2="360.62" stroke="#000000" stroke-width="0.7"/>
<line x1="79.65" y1="358.01" x2="81.45" y2="358.01" stroke="#000000" stroke-width="0.7"/>
<line x1="79.65" y1="355.80" x2="81.45" y2="355.80" stroke="#000000" stroke-width="0.7"/>
<line x1="79.65" y1="353.89" x2="81.45" y2="353.89" stroke="#000000" stroke-width="0.7"/>
<line x1="79.65" y1="352.21" x2="81.45" y2="352.21" stroke="#000000" stroke-width="0.7"/>
<line x1="78.05" y1="350.70" x2="81.45" y2="350.70" stroke="#000000" stroke-width="1.0"/>
<line x1="79.65" y1="340.78" x2="81.45" y2="340.78" stroke="#000000" stroke-width="0.7"/>
<line x1="79.65" y1="334.98" x2="81.45" y2="334.98" stroke="#000000" stroke-width="0.7"/>
<line x1="79.65" y1="330.86" x2="81.45" y2="330.86" stroke="#000000" stroke-width="0.7"/>
<line x1="79.65" y1="327.67" x2="81.45" y2="327.67" stroke="#000000" stroke-width="0.7"/>
<line x1="79.65" y1="325.06" x2="81.45" y2="325.06" stroke="#000000" stroke-width="0.7"/>
<line x1="79.65" y1="322.85" x2="81.45" y2="322.85" stroke="#000000" stroke-width="0.7"/>
<line x1="79.65" y1="320.94" x2="81.45" y2="320.94" stroke="#000000" stroke-width="0.7"/>
<line x1="79.65" y1="319.26" x2="81.45" y2="319.26" stroke="#000000" stroke-width="0.7"/>
<line x1="78.05" y1="317.75" x2="81.45" y2="317.75" stroke="#000000" stroke-width="1.0"/>
<line x1="79.65" y1="307.83" x2="81.45" y2="307.83" stroke="#000000" stroke-width="0.7"/>
<line x1="79.65" y1="302.03" x2="81.45" y2="302.03" stroke="#000000" stroke-width="0.7"/>
<line x1="79.65" y1="297.91" x2="81.45" y2="297.91" stroke="#000000" stroke-width="0.7"/>
<line x1="79.65" y1="294.72" x2="81.45" y2="294.72" stroke="#000000" stroke-width="0.7"/>
<line x1="79.65" y1="292.11" x2="81.45" y2="292.11" stroke="#000000" stroke-width="0.7"/>
<line x1="79.65" y1="289.90" x2="81.45" y2="289.90" stroke="#000000" stroke-width="0.7"/>
<line x1="79.65" y1="287.99" x2="81.45" y2="287.99" stroke="#000000" stroke-width="0.7"/>
<line x1="79.65" y1="286.31" x2="81.45" y2="286.31" stroke="#000000" stroke-width="0.7"/>
<line x1="78.05" y1="284.80" x2="81.45" y2="284.80" stroke="#000000" stroke-width="1.0"/>
<text x="48.70" y="288.10" font-size="10.3" textLength="25.40" lengthAdjust="spacingAndGlyphs" fill="#231f20" stroke="#231f20" stroke-width="0.25">10 000</text>
<text x="55.30" y="321.05" font-size="10.3" textLength="19.00" lengthAdjust="spacingAndGlyphs" fill="#231f20" stroke="#231f20" stroke-width="0.25">1000</text>
<text x="60.20" y="354.00" font-size="10.3" textLength="14.40" lengthAdjust="spacingAndGlyphs" fill="#231f20" stroke="#231f20" stroke-width="0.25">100</text>
<text x="65.10" y="386.95" font-size="10.3" textLength="9.50" lengthAdjust="spacingAndGlyphs" fill="#231f20" stroke="#231f20" stroke-width="0.25">10</text>
<text x="70.40" y="419.90" font-size="10.3" textLength="2.70" lengthAdjust="spacingAndGlyphs" fill="#231f20" stroke="#231f20" stroke-width="0.25">1</text>
<line x1="80.80" y1="419.60" x2="136.80" y2="419.60" stroke="#000000" stroke-width="1.5"/>
<text transform="translate(44.30,386.40) rotate(-90)" x="0" y="0" font-size="11.0" textLength="70.40" lengthAdjust="spacingAndGlyphs" fill="#231f20" stroke="#231f20" stroke-width="0.25">M-MDSC (cells/μL)</text>
<circle cx="97.00" cy="318.15" r="2.25" fill="#1b3d7a"/>
<circle cx="106.20" cy="319.15" r="2.25" fill="#1b3d7a"/>
<circle cx="101.50" cy="321.65" r="2.25" fill="#1b3d7a"/>
<circle cx="97.00" cy="324.55" r="2.25" fill="#1b3d7a"/>
<circle cx="106.20" cy="326.45" r="2.25" fill="#1b3d7a"/>
<circle cx="101.50" cy="328.75" r="2.25" fill="#1b3d7a"/>
<circle cx="106.20" cy="331.05" r="2.25" fill="#1b3d7a"/>
<circle cx="97.00" cy="332.55" r="2.25" fill="#1b3d7a"/>
<circle cx="101.50" cy="342.95" r="2.25" fill="#1b3d7a"/>
<circle cx="106.30" cy="348.15" r="2.25" fill="#1b3d7a"/>
<circle cx="96.60" cy="351.75" r="2.25" fill="#1b3d7a"/>
<circle cx="99.70" cy="350.55" r="2.25" fill="#1b3d7a"/>
<circle cx="103.30" cy="353.25" r="2.25" fill="#1b3d7a"/>
<circle cx="106.30" cy="353.25" r="2.25" fill="#1b3d7a"/>
<circle cx="97.00" cy="357.65" r="2.25" fill="#1b3d7a"/>
<circle cx="101.50" cy="370.65" r="2.25" fill="#1b3d7a"/>
<circle cx="101.50" cy="383.75" r="2.25" fill="#1b3d7a"/>
<circle cx="101.50" cy="390.05" r="2.25" fill="#1b3d7a"/>
<path d="M119.55,288.80L124.05,288.80L122.25,293.40L121.35,293.40Z" fill="#ad0f24"/>
<path d="M119.55,296.70L124.05,296.70L122.25,301.30L121.35,301.30Z" fill="#ad0f24"/>
<path d="M119.55,302.70L124.05,302.70L122.25,307.30L121.35,307.30Z" fill="#ad0f24"/>
<path d="M124.15,308.90L128.65,308.90L126.85,313.50L125.95,313.50Z" fill="#ad0f24"/>
<path d="M114.95,310.40L119.45,310.40L117.65,315.00L116.75,315.00Z" fill="#ad0f24"/>
<path d="M114.95,316.80L119.45,316.80L117.65,321.40L116.75,321.40Z" fill="#ad0f24"/>
<path d="M124.15,316.80L128.65,316.80L126.85,321.40L125.95,321.40Z" fill="#ad0f24"/>
<path d="M119.55,324.10L124.05,324.10L122.25,328.70L121.35,328.70Z" fill="#ad0f24"/>
<path d="M124.15,328.80L128.65,328.80L126.85,333.40L125.95,333.40Z" fill="#ad0f24"/>
<path d="M114.95,331.10L119.45,331.10L117.65,335.70L116.75,335.70Z" fill="#ad0f24"/>
<path d="M124.15,333.80L128.65,333.80L126.85,338.40L125.95,338.40Z" fill="#ad0f24"/>
<path d="M114.95,337.80L119.45,337.80L117.65,342.40L116.75,342.40Z" fill="#ad0f24"/>
<path d="M119.55,344.70L124.05,344.70L122.25,349.30L121.35,349.30Z" fill="#ad0f24"/>
<path d="M114.95,347.50L119.45,347.50L117.65,352.10L116.75,352.10Z" fill="#ad0f24"/>
<path d="M124.15,347.50L128.65,347.50L126.85,352.10L125.95,352.10Z" fill="#ad0f24"/>
<path d="M119.85,385.30L124.35,385.30L122.55,389.90L121.65,389.90Z" fill="#ad0f24"/>
<path d="M119.85,409.00L124.35,409.00L122.55,413.60L121.65,413.60Z" fill="#ad0f24"/>
<line x1="101.90" y1="323.60" x2="101.90" y2="334.00" stroke="#0a0a0a" stroke-width="1.15"/>
<line x1="98.60" y1="323.60" x2="105.20" y2="323.60" stroke="#0a0a0a" stroke-width="1.15"/>
<line x1="95.20" y1="334.00" x2="108.60" y2="334.00" stroke="#0a0a0a" stroke-width="1.25"/>
<line x1="121.80" y1="303.00" x2="121.80" y2="316.20" stroke="#0a0a0a" stroke-width="1.15"/>
<line x1="118.50" y1="303.00" x2="125.10" y2="303.00" stroke="#0a0a0a" stroke-width="1.15"/>
<line x1="115.10" y1="316.20" x2="128.50" y2="316.20" stroke="#0a0a0a" stroke-width="1.25"/>
<circle cx="61.00" cy="427.80" r="2.15" fill="#1b3d7a"/>
<text x="66.80" y="430.80" font-size="8.9" textLength="75.90" lengthAdjust="spacingAndGlyphs" fill="#231f20" stroke="#231f20" stroke-width="0.25">Durable Responders</text>
<path d="M58.80,437.85L63.40,437.85L61.55,442.15L60.65,442.15Z" fill="#ad0f24"/>
<text x="66.80" y="442.60" font-size="8.9" textLength="92.20" lengthAdjust="spacingAndGlyphs" fill="#231f20" stroke="#231f20" stroke-width="0.25">Non-durable responders</text>
<text x="177.40" y="253.80" font-size="12.5" textLength="6.40" lengthAdjust="spacingAndGlyphs" font-weight="bold" fill="#000" stroke="#000" stroke-width="0.45">E</text>
<text x="223.20" y="266.50" font-size="10.8" textLength="57.00" lengthAdjust="spacingAndGlyphs" fill="#231f20" stroke="#231f20" stroke-width="0.25">Peak (n=41)</text>
<text x="242.70" y="282.60" font-size="8.0" textLength="5.20" lengthAdjust="spacingAndGlyphs" font-style="italic" fill="#231f20" stroke="#231f20" stroke-width="0.25">P</text>
<text x="250.50" y="282.60" font-size="8.0" textLength="14.30" lengthAdjust="spacingAndGlyphs" fill="#231f20" stroke="#231f20" stroke-width="0.25">= .2</text>
<line x1="241.70" y1="286.30" x2="265.20" y2="286.30" stroke="#222" stroke-width="1.0"/>
<line x1="223.80" y1="282.10" x2="223.80" y2="420.30" stroke="#000000" stroke-width="1.4"/>
<line x1="222.00" y1="418.11" x2="223.80" y2="418.11" stroke="#000000" stroke-width="0.7"/>
<line x1="220.40" y1="416.60" x2="223.80" y2="416.60" stroke="#000000" stroke-width="1.0"/>
<line x1="222.00" y1="406.68" x2="223.80" y2="406.68" stroke="#000000" stroke-width="0.7"/>
<line x1="222.00" y1="400.88" x2="223.80" y2="400.88" stroke="#000000" stroke-width="0.7"/>
<line x1="222.00" y1="396.76" x2="223.80" y2="396.76" stroke="#000000" stroke-width="0.7"/>
<line x1="222.00" y1="393.57" x2="223.80" y2="393.57" stroke="#000000" stroke-width="0.7"/>
<line x1="222.00" y1="390.96" x2="223.80" y2="390.96" stroke="#000000" stroke-width="0.7"/>
<line x1="222.00" y1="388.75" x2="223.80" y2="388.75" stroke="#000000" stroke-width="0.7"/>
<line x1="222.00" y1="386.84" x2="223.80" y2="386.84" stroke="#000000" stroke-width="0.7"/>
<line x1="222.00" y1="385.16" x2="223.80" y2="385.16" stroke="#000000" stroke-width="0.7"/>
<line x1="220.40" y1="383.65" x2="223.80" y2="383.65" stroke="#000000" stroke-width="1.0"/>
<line x1="222.00" y1="373.73" x2="223.80" y2="373.73" stroke="#000000" stroke-width="0.7"/>
<line x1="222.00" y1="367.93" x2="223.80" y2="367.93" stroke="#000000" stroke-width="0.7"/>
<line x1="222.00" y1="363.81" x2="223.80" y2="363.81" stroke="#000000" stroke-width="0.7"/>
<line x1="222.00" y1="360.62" x2="223.80" y2="360.62" stroke="#000000" stroke-width="0.7"/>
<line x1="222.00" y1="358.01" x2="223.80" y2="358.01" stroke="#000000" stroke-width="0.7"/>
<line x1="222.00" y1="355.80" x2="223.80" y2="355.80" stroke="#000000" stroke-width="0.7"/>
<line x1="222.00" y1="353.89" x2="223.80" y2="353.89" stroke="#000000" stroke-width="0.7"/>
<line x1="222.00" y1="352.21" x2="223.80" y2="352.21" stroke="#000000" stroke-width="0.7"/>
<line x1="220.40" y1="350.70" x2="223.80" y2="350.70" stroke="#000000" stroke-width="1.0"/>
<line x1="222.00" y1="340.78" x2="223.80" y2="340.78" stroke="#000000" stroke-width="0.7"/>
<line x1="222.00" y1="334.98" x2="223.80" y2="334.98" stroke="#000000" stroke-width="0.7"/>
<line x1="222.00" y1="330.86" x2="223.80" y2="330.86" stroke="#000000" stroke-width="0.7"/>
<line x1="222.00" y1="327.67" x2="223.80" y2="327.67" stroke="#000000" stroke-width="0.7"/>
<line x1="222.00" y1="325.06" x2="223.80" y2="325.06" stroke="#000000" stroke-width="0.7"/>
<line x1="222.00" y1="322.85" x2="223.80" y2="322.85" stroke="#000000" stroke-width="0.7"/>
<line x1="222.00" y1="320.94" x2="223.80" y2="320.94" stroke="#000000" stroke-width="0.7"/>
<line x1="222.00" y1="319.26" x2="223.80" y2="319.26" stroke="#000000" stroke-width="0.7"/>
<line x1="220.40" y1="317.75" x2="223.80" y2="317.75" stroke="#000000" stroke-width="1.0"/>
<line x1="222.00" y1="307.83" x2="223.80" y2="307.83" stroke="#000000" stroke-width="0.7"/>
<line x1="222.00" y1="302.03" x2="223.80" y2="302.03" stroke="#000000" stroke-width="0.7"/>
<line x1="222.00" y1="297.91" x2="223.80" y2="297.91" stroke="#000000" stroke-width="0.7"/>
<line x1="222.00" y1="294.72" x2="223.80" y2="294.72" stroke="#000000" stroke-width="0.7"/>
<line x1="222.00" y1="292.11" x2="223.80" y2="292.11" stroke="#000000" stroke-width="0.7"/>
<line x1="222.00" y1="289.90" x2="223.80" y2="289.90" stroke="#000000" stroke-width="0.7"/>
<line x1="222.00" y1="287.99" x2="223.80" y2="287.99" stroke="#000000" stroke-width="0.7"/>
<line x1="222.00" y1="286.31" x2="223.80" y2="286.31" stroke="#000000" stroke-width="0.7"/>
<line x1="220.40" y1="284.80" x2="223.80" y2="284.80" stroke="#000000" stroke-width="1.0"/>
<text x="191.10" y="288.10" font-size="10.3" textLength="26.10" lengthAdjust="spacingAndGlyphs" fill="#231f20" stroke="#231f20" stroke-width="0.25">10000</text>
<text x="197.60" y="321.05" font-size="10.3" textLength="19.60" lengthAdjust="spacingAndGlyphs" fill="#231f20" stroke="#231f20" stroke-width="0.25">1000</text>
<text x="202.70" y="354.00" font-size="10.3" textLength="14.50" lengthAdjust="spacingAndGlyphs" fill="#231f20" stroke="#231f20" stroke-width="0.25">100</text>
<text x="208.30" y="386.95" font-size="10.3" textLength="8.90" lengthAdjust="spacingAndGlyphs" fill="#231f20" stroke="#231f20" stroke-width="0.25">10</text>
<text x="213.00" y="419.90" font-size="10.3" textLength="2.70" lengthAdjust="spacingAndGlyphs" fill="#231f20" stroke="#231f20" stroke-width="0.25">1</text>
<line x1="223.10" y1="419.60" x2="278.80" y2="419.60" stroke="#000000" stroke-width="1.5"/>
<text transform="translate(187.00,386.40) rotate(-90)" x="0" y="0" font-size="11.0" textLength="70.40" lengthAdjust="spacingAndGlyphs" fill="#231f20" stroke="#231f20" stroke-width="0.25">M-MDSC (cells/μL)</text>
<circle cx="244.00" cy="315.55" r="2.25" fill="#1b3d7a"/>
<circle cx="244.00" cy="321.65" r="2.25" fill="#1b3d7a"/>
<circle cx="239.60" cy="328.25" r="2.25" fill="#1b3d7a"/>
<circle cx="248.90" cy="326.75" r="2.25" fill="#1b3d7a"/>
<circle cx="248.90" cy="333.95" r="2.25" fill="#1b3d7a"/>
<circle cx="244.00" cy="338.35" r="2.25" fill="#1b3d7a"/>
<circle cx="248.90" cy="339.45" r="2.25" fill="#1b3d7a"/>
<circle cx="239.60" cy="342.45" r="2.25" fill="#1b3d7a"/>
<circle cx="245.70" cy="347.15" r="2.25" fill="#1b3d7a"/>
<circle cx="242.80" cy="350.95" r="2.25" fill="#1b3d7a"/>
<circle cx="239.60" cy="352.65" r="2.25" fill="#1b3d7a"/>
<circle cx="245.90" cy="355.45" r="2.25" fill="#1b3d7a"/>
<circle cx="249.10" cy="355.45" r="2.25" fill="#1b3d7a"/>
<circle cx="239.60" cy="358.35" r="2.25" fill="#1b3d7a"/>
<circle cx="239.60" cy="372.95" r="2.25" fill="#1b3d7a"/>
<circle cx="242.80" cy="377.65" r="2.25" fill="#1b3d7a"/>
<circle cx="245.90" cy="377.95" r="2.25" fill="#1b3d7a"/>
<circle cx="249.10" cy="377.95" r="2.25" fill="#1b3d7a"/>
<circle cx="239.60" cy="380.15" r="2.25" fill="#1b3d7a"/>
<circle cx="244.20" cy="407.85" r="2.25" fill="#1b3d7a"/>
<circle cx="239.60" cy="416.55" r="2.25" fill="#1b3d7a"/>
<circle cx="244.20" cy="416.55" r="2.25" fill="#1b3d7a"/>
<circle cx="248.80" cy="416.55" r="2.25" fill="#1b3d7a"/>
<path d="M262.35,305.30L266.85,305.30L265.05,309.90L264.15,309.90Z" fill="#ad0f24"/>
<path d="M262.35,316.00L266.85,316.00L265.05,320.60L264.15,320.60Z" fill="#ad0f24"/>
<path d="M267.15,316.70L271.65,316.70L269.85,321.30L268.95,321.30Z" fill="#ad0f24"/>
<path d="M257.65,319.80L262.15,319.80L260.35,324.40L259.45,324.40Z" fill="#ad0f24"/>
<path d="M267.15,324.90L271.65,324.90L269.85,329.50L268.95,329.50Z" fill="#ad0f24"/>
<path d="M257.65,328.10L262.15,328.10L260.35,332.70L259.45,332.70Z" fill="#ad0f24"/>
<path d="M262.35,332.80L266.85,332.80L265.05,337.40L264.15,337.40Z" fill="#ad0f24"/>
<path d="M267.15,337.60L271.65,337.60L269.85,342.20L268.95,342.20Z" fill="#ad0f24"/>
<path d="M257.65,340.20L262.15,340.20L260.35,344.80L259.45,344.80Z" fill="#ad0f24"/>
<path d="M262.35,348.40L266.85,348.40L265.05,353.00L264.15,353.00Z" fill="#ad0f24"/>
<path d="M257.65,355.90L262.15,355.90L260.35,360.50L259.45,360.50Z" fill="#ad0f24"/>
<path d="M267.15,355.90L271.65,355.90L269.85,360.50L268.95,360.50Z" fill="#ad0f24"/>
<path d="M257.65,369.20L262.15,369.20L260.35,373.80L259.45,373.80Z" fill="#ad0f24"/>
<path d="M267.15,371.40L271.65,371.40L269.85,376.00L268.95,376.00Z" fill="#ad0f24"/>
<path d="M257.65,374.90L262.15,374.90L260.35,379.50L259.45,379.50Z" fill="#ad0f24"/>
<path d="M262.35,389.50L266.85,389.50L265.05,394.10L264.15,394.10Z" fill="#ad0f24"/>
<path d="M262.35,407.70L266.85,407.70L265.05,412.30L264.15,412.30Z" fill="#ad0f24"/>
<path d="M262.35,414.00L266.85,414.00L265.05,418.60L264.15,418.60Z" fill="#ad0f24"/>
<line x1="244.20" y1="328.00" x2="244.20" y2="340.70" stroke="#0a0a0a" stroke-width="1.15"/>
<line x1="240.90" y1="328.00" x2="247.50" y2="328.00" stroke="#0a0a0a" stroke-width="1.15"/>
<line x1="237.50" y1="340.70" x2="250.90" y2="340.70" stroke="#0a0a0a" stroke-width="1.25"/>
<line x1="264.70" y1="319.10" x2="264.70" y2="332.40" stroke="#0a0a0a" stroke-width="1.15"/>
<line x1="261.40" y1="319.10" x2="268.00" y2="319.10" stroke="#0a0a0a" stroke-width="1.15"/>
<line x1="258.00" y1="332.40" x2="271.40" y2="332.40" stroke="#0a0a0a" stroke-width="1.25"/>
<circle cx="203.60" cy="427.80" r="2.15" fill="#1b3d7a"/>
<text x="209.70" y="430.80" font-size="8.9" textLength="76.50" lengthAdjust="spacingAndGlyphs" fill="#231f20" stroke="#231f20" stroke-width="0.25">Durable Responders</text>
<path d="M201.30,437.85L205.90,437.85L204.05,442.15L203.15,442.15Z" fill="#ad0f24"/>
<text x="209.70" y="442.60" font-size="8.9" textLength="92.30" lengthAdjust="spacingAndGlyphs" fill="#231f20" stroke="#231f20" stroke-width="0.25">Non-durable responders</text>
<text x="320.00" y="253.80" font-size="12.5" textLength="6.20" lengthAdjust="spacingAndGlyphs" font-weight="bold" fill="#000" stroke="#000" stroke-width="0.45">F</text>
<line x1="379.50" y1="308.70" x2="379.50" y2="420.60" stroke="#000000" stroke-width="1.4"/>
<line x1="375.90" y1="419.88" x2="379.50" y2="419.88" stroke="#000000" stroke-width="1.0"/>
<line x1="377.90" y1="413.35" x2="379.50" y2="413.35" stroke="#000000" stroke-width="0.7"/>
<line x1="377.90" y1="409.54" x2="379.50" y2="409.54" stroke="#000000" stroke-width="0.7"/>
<line x1="377.90" y1="406.83" x2="379.50" y2="406.83" stroke="#000000" stroke-width="0.7"/>
<line x1="377.90" y1="404.73" x2="379.50" y2="404.73" stroke="#000000" stroke-width="0.7"/>
<line x1="377.90" y1="403.01" x2="379.50" y2="403.01" stroke="#000000" stroke-width="0.7"/>
<line x1="377.90" y1="401.56" x2="379.50" y2="401.56" stroke="#000000" stroke-width="0.7"/>
<line x1="377.90" y1="400.30" x2="379.50" y2="400.30" stroke="#000000" stroke-width="0.7"/>
<line x1="377.90" y1="399.19" x2="379.50" y2="399.19" stroke="#000000" stroke-width="0.7"/>
<line x1="375.90" y1="398.20" x2="379.50" y2="398.20" stroke="#000000" stroke-width="1.0"/>
<line x1="377.90" y1="391.67" x2="379.50" y2="391.67" stroke="#000000" stroke-width="0.7"/>
<line x1="377.90" y1="387.86" x2="379.50" y2="387.86" stroke="#000000" stroke-width="0.7"/>
<line x1="377.90" y1="385.15" x2="379.50" y2="385.15" stroke="#000000" stroke-width="0.7"/>
<line x1="377.90" y1="383.05" x2="379.50" y2="383.05" stroke="#000000" stroke-width="0.7"/>
<line x1="377.90" y1="381.33" x2="379.50" y2="381.33" stroke="#000000" stroke-width="0.7"/>
<line x1="377.90" y1="379.88" x2="379.50" y2="379.88" stroke="#000000" stroke-width="0.7"/>
<line x1="377.90" y1="378.62" x2="379.50" y2="378.62" stroke="#000000" stroke-width="0.7"/>
<line x1="377.90" y1="377.51" x2="379.50" y2="377.51" stroke="#000000" stroke-width="0.7"/>
<line x1="375.90" y1="376.52" x2="379.50" y2="376.52" stroke="#000000" stroke-width="1.0"/>
<line x1="377.90" y1="369.99" x2="379.50" y2="369.99" stroke="#000000" stroke-width="0.7"/>
<line x1="377.90" y1="366.18" x2="379.50" y2="366.18" stroke="#000000" stroke-width="0.7"/>
<line x1="377.90" y1="363.47" x2="379.50" y2="363.47" stroke="#000000" stroke-width="0.7"/>
<line x1="377.90" y1="361.37" x2="379.50" y2="361.37" stroke="#000000" stroke-width="0.7"/>
<line x1="377.90" y1="359.65" x2="379.50" y2="359.65" stroke="#000000" stroke-width="0.7"/>
<line x1="377.90" y1="358.20" x2="379.50" y2="358.20" stroke="#000000" stroke-width="0.7"/>
<line x1="377.90" y1="356.94" x2="379.50" y2="356.94" stroke="#000000" stroke-width="0.7"/>
<line x1="377.90" y1="355.83" x2="379.50" y2="355.83" stroke="#000000" stroke-width="0.7"/>
<line x1="375.90" y1="354.84" x2="379.50" y2="354.84" stroke="#000000" stroke-width="1.0"/>
<line x1="377.90" y1="348.31" x2="379.50" y2="348.31" stroke="#000000" stroke-width="0.7"/>
<line x1="377.90" y1="344.50" x2="379.50" y2="344.50" stroke="#000000" stroke-width="0.7"/>
<line x1="377.90" y1="341.79" x2="379.50" y2="341.79" stroke="#000000" stroke-width="0.7"/>
<line x1="377.90" y1="339.69" x2="379.50" y2="339.69" stroke="#000000" stroke-width="0.7"/>
<line x1="377.90" y1="337.97" x2="379.50" y2="337.97" stroke="#000000" stroke-width="0.7"/>
<line x1="377.90" y1="336.52" x2="379.50" y2="336.52" stroke="#000000" stroke-width="0.7"/>
<line x1="377.90" y1="335.26" x2="379.50" y2="335.26" stroke="#000000" stroke-width="0.7"/>
<line x1="377.90" y1="334.15" x2="379.50" y2="334.15" stroke="#000000" stroke-width="0.7"/>
<line x1="375.90" y1="333.16" x2="379.50" y2="333.16" stroke="#000000" stroke-width="1.0"/>
<line x1="377.90" y1="326.63" x2="379.50" y2="326.63" stroke="#000000" stroke-width="0.7"/>
<line x1="377.90" y1="322.82" x2="379.50" y2="322.82" stroke="#000000" stroke-width="0.7"/>
<line x1="377.90" y1="320.11" x2="379.50" y2="320.11" stroke="#000000" stroke-width="0.7"/>
<line x1="377.90" y1="318.01" x2="379.50" y2="318.01" stroke="#000000" stroke-width="0.7"/>
<line x1="377.90" y1="316.29" x2="379.50" y2="316.29" stroke="#000000" stroke-width="0.7"/>
<line x1="377.90" y1="314.84" x2="379.50" y2="314.84" stroke="#000000" stroke-width="0.7"/>
<line x1="377.90" y1="313.58" x2="379.50" y2="313.58" stroke="#000000" stroke-width="0.7"/>
<line x1="377.90" y1="312.47" x2="379.50" y2="312.47" stroke="#000000" stroke-width="0.7"/>
<line x1="375.90" y1="311.48" x2="379.50" y2="311.48" stroke="#000000" stroke-width="1.0"/>
<text x="347.30" y="314.78" font-size="9.5" textLength="25.30" lengthAdjust="spacingAndGlyphs" fill="#231f20" stroke="#231f20" stroke-width="0.25">10 000</text>
<text x="353.20" y="336.46" font-size="9.5" textLength="19.20" lengthAdjust="spacingAndGlyphs" fill="#231f20" stroke="#231f20" stroke-width="0.25">1000</text>
<text x="357.50" y="358.14" font-size="9.5" textLength="14.90" lengthAdjust="spacingAndGlyphs" fill="#231f20" stroke="#231f20" stroke-width="0.25">100</text>
<text x="362.50" y="379.82" font-size="9.5" textLength="9.90" lengthAdjust="spacingAndGlyphs" fill="#231f20" stroke="#231f20" stroke-width="0.25">10</text>
<text x="368.30" y="401.50" font-size="9.5" textLength="2.60" lengthAdjust="spacingAndGlyphs" fill="#231f20" stroke="#231f20" stroke-width="0.25">1</text>
<text x="360.20" y="423.18" font-size="9.5" textLength="10.70" lengthAdjust="spacingAndGlyphs" fill="#231f20" stroke="#231f20" stroke-width="0.25">0.1</text>
<line x1="378.90" y1="419.90" x2="502.80" y2="419.90" stroke="#000000" stroke-width="1.3"/>
<line x1="379.50" y1="419.90" x2="379.50" y2="422.90" stroke="#000000" stroke-width="1.0"/>
<line x1="388.51" y1="419.90" x2="388.51" y2="421.60" stroke="#000000" stroke-width="0.7"/>
<line x1="393.78" y1="419.90" x2="393.78" y2="421.60" stroke="#000000" stroke-width="0.7"/>
<line x1="397.52" y1="419.90" x2="397.52" y2="421.60" stroke="#000000" stroke-width="0.7"/>
<line x1="400.42" y1="419.90" x2="400.42" y2="421.60" stroke="#000000" stroke-width="0.7"/>
<line x1="402.79" y1="419.90" x2="402.79" y2="421.60" stroke="#000000" stroke-width="0.7"/>
<line x1="404.79" y1="419.90" x2="404.79" y2="421.60" stroke="#000000" stroke-width="0.7"/>
<line x1="406.53" y1="419.90" x2="406.53" y2="421.60" stroke="#000000" stroke-width="0.7"/>
<line x1="408.06" y1="419.90" x2="408.06" y2="421.60" stroke="#000000" stroke-width="0.7"/>
<line x1="409.43" y1="419.90" x2="409.43" y2="422.90" stroke="#000000" stroke-width="1.0"/>
<line x1="418.44" y1="419.90" x2="418.44" y2="421.60" stroke="#000000" stroke-width="0.7"/>
<line x1="423.71" y1="419.90" x2="423.71" y2="421.60" stroke="#000000" stroke-width="0.7"/>
<line x1="427.45" y1="419.90" x2="427.45" y2="421.60" stroke="#000000" stroke-width="0.7"/>
<line x1="430.35" y1="419.90" x2="430.35" y2="421.60" stroke="#000000" stroke-width="0.7"/>
<line x1="432.72" y1="419.90" x2="432.72" y2="421.60" stroke="#000000" stroke-width="0.7"/>
<line x1="434.72" y1="419.90" x2="434.72" y2="421.60" stroke="#000000" stroke-width="0.7"/>
<line x1="436.46" y1="419.90" x2="436.46" y2="421.60" stroke="#000000" stroke-width="0.7"/>
<line x1="437.99" y1="419.90" x2="437.99" y2="421.60" stroke="#000000" stroke-width="0.7"/>
<line x1="439.36" y1="419.90" x2="439.36" y2="422.90" stroke="#000000" stroke-width="1.0"/>
<line x1="448.37" y1="419.90" x2="448.37" y2="421.60" stroke="#000000" stroke-width="0.7"/>
<line x1="453.64" y1="419.90" x2="453.64" y2="421.60" stroke="#000000" stroke-width="0.7"/>
<line x1="457.38" y1="419.90" x2="457.38" y2="421.60" stroke="#000000" stroke-width="0.7"/>
<line x1="460.28" y1="419.90" x2="460.28" y2="421.60" stroke="#000000" stroke-width="0.7"/>
<line x1="462.65" y1="419.90" x2="462.65" y2="421.60" stroke="#000000" stroke-width="0.7"/>
<line x1="464.65" y1="419.90" x2="464.65" y2="421.60" stroke="#000000" stroke-width="0.7"/>
<line x1="466.39" y1="419.90" x2="466.39" y2="421.60" stroke="#000000" stroke-width="0.7"/>
<line x1="467.92" y1="419.90" x2="467.92" y2="421.60" stroke="#000000" stroke-width="0.7"/>
<line x1="469.29" y1="419.90" x2="469.29" y2="422.90" stroke="#000000" stroke-width="1.0"/>
<line x1="478.30" y1="419.90" x2="478.30" y2="421.60" stroke="#000000" stroke-width="0.7"/>
<line x1="483.57" y1="419.90" x2="483.57" y2="421.60" stroke="#000000" stroke-width="0.7"/>
<line x1="487.31" y1="419.90" x2="487.31" y2="421.60" stroke="#000000" stroke-width="0.7"/>
<line x1="490.21" y1="419.90" x2="490.21" y2="421.60" stroke="#000000" stroke-width="0.7"/>
<line x1="492.58" y1="419.90" x2="492.58" y2="421.60" stroke="#000000" stroke-width="0.7"/>
<line x1="494.58" y1="419.90" x2="494.58" y2="421.60" stroke="#000000" stroke-width="0.7"/>
<line x1="496.32" y1="419.90" x2="496.32" y2="421.60" stroke="#000000" stroke-width="0.7"/>
<line x1="497.85" y1="419.90" x2="497.85" y2="421.60" stroke="#000000" stroke-width="0.7"/>
<line x1="499.22" y1="419.90" x2="499.22" y2="422.90" stroke="#000000" stroke-width="1.0"/>
<text x="378.00" y="434.30" font-size="9.5" textLength="2.80" lengthAdjust="spacingAndGlyphs" fill="#231f20" stroke="#231f20" stroke-width="0.25">1</text>
<text x="405.00" y="434.30" font-size="9.5" textLength="9.60" lengthAdjust="spacingAndGlyphs" fill="#231f20" stroke="#231f20" stroke-width="0.25">10</text>
<text x="433.00" y="434.30" font-size="9.5" textLength="13.20" lengthAdjust="spacingAndGlyphs" fill="#231f20" stroke="#231f20" stroke-width="0.25">100</text>
<text x="460.00" y="434.30" font-size="9.5" textLength="18.80" lengthAdjust="spacingAndGlyphs" fill="#231f20" stroke="#231f20" stroke-width="0.25">1000</text>
<text x="487.00" y="434.30" font-size="9.5" textLength="25.00" lengthAdjust="spacingAndGlyphs" fill="#231f20" stroke="#231f20" stroke-width="0.25">10 000</text>
<text x="407.20" y="449.00" font-size="11.0" textLength="67.30" lengthAdjust="spacingAndGlyphs" fill="#231f20" stroke="#231f20" stroke-width="0.25">Baseline M-MDSC</text>
<text x="423.00" y="462.50" font-size="11.0" textLength="35.80" lengthAdjust="spacingAndGlyphs" fill="#231f20" stroke="#231f20" stroke-width="0.25">(cells/μL)</text>
<text transform="translate(328.90,400.30) rotate(-90)" x="0" y="0" font-size="11.0" textLength="73.40" lengthAdjust="spacingAndGlyphs" fill="#231f20" stroke="#231f20" stroke-width="0.25">Post CAR T M-MDSC</text>
<text transform="translate(340.50,379.70) rotate(-90)" x="0" y="0" font-size="11.0" textLength="33.00" lengthAdjust="spacingAndGlyphs" fill="#231f20" stroke="#231f20" stroke-width="0.25">(cells/μL)</text>
<text x="393.80" y="320.60" font-size="8.8" textLength="5.00" lengthAdjust="spacingAndGlyphs" font-style="italic" fill="#231f20" stroke="#231f20" stroke-width="0.25">R</text>
<text x="401.20" y="320.60" font-size="8.8" textLength="23.40" lengthAdjust="spacingAndGlyphs" fill="#231f20" stroke="#231f20" stroke-width="0.25">= 0.71</text>
<text x="393.80" y="332.70" font-size="8.8" textLength="5.10" lengthAdjust="spacingAndGlyphs" font-style="italic" fill="#231f20" stroke="#231f20" stroke-width="0.25">P</text>
<text x="401.20" y="332.70" font-size="8.8" textLength="27.80" lengthAdjust="spacingAndGlyphs" fill="#231f20" stroke="#231f20" stroke-width="0.25">&lt; .0001</text>
<text x="477.00" y="388.60" font-size="9.0" textLength="11.00" lengthAdjust="spacingAndGlyphs" fill="#231f20" stroke="#231f20" stroke-width="0.25">DR</text>
<text x="477.50" y="401.10" font-size="9.0" textLength="17.50" lengthAdjust="spacingAndGlyphs" fill="#b5213a" stroke="#b5213a" stroke-width="0.25">NDR</text>
<circle cx="408.75" cy="355.00" r="1.9" fill="#1b3d7a"/>
<circle cx="421.00" cy="346.50" r="1.9" fill="#1b3d7a"/>
<circle cx="433.00" cy="357.75" r="1.9" fill="#1b3d7a"/>
<circle cx="436.75" cy="356.00" r="1.9" fill="#1b3d7a"/>
<circle cx="439.50" cy="358.00" r="1.9" fill="#1b3d7a"/>
<circle cx="441.50" cy="374.25" r="1.9" fill="#1b3d7a"/>
<circle cx="438.25" cy="398.25" r="1.9" fill="#1b3d7a"/>
<circle cx="403.25" cy="398.25" r="1.9" fill="#1b3d7a"/>
<circle cx="446.30" cy="349.50" r="1.9" fill="#1b3d7a"/>
<circle cx="455.60" cy="347.10" r="1.9" fill="#1b3d7a"/>
<circle cx="457.10" cy="339.10" r="1.9" fill="#1b3d7a"/>
<circle cx="459.00" cy="343.70" r="1.9" fill="#1b3d7a"/>
<circle cx="463.10" cy="335.60" r="1.9" fill="#1b3d7a"/>
<circle cx="465.40" cy="331.80" r="1.9" fill="#1b3d7a"/>
<circle cx="468.80" cy="340.10" r="1.9" fill="#1b3d7a"/>
<circle cx="467.90" cy="352.60" r="1.9" fill="#1b3d7a"/>
<circle cx="461.25" cy="372.50" r="1.9" fill="#1b3d7a"/>
<circle cx="383.75" cy="398.25" r="1.9" fill="#b0102a"/>
<circle cx="405.75" cy="393.75" r="1.9" fill="#b0102a"/>
<circle cx="440.00" cy="368.75" r="1.9" fill="#b0102a"/>
<circle cx="440.00" cy="372.50" r="1.9" fill="#b0102a"/>
<circle cx="442.00" cy="381.75" r="1.9" fill="#b0102a"/>
<circle cx="448.70" cy="344.80" r="1.9" fill="#b0102a"/>
<circle cx="452.10" cy="359.80" r="1.9" fill="#b0102a"/>
<circle cx="456.70" cy="359.80" r="1.9" fill="#b0102a"/>
<circle cx="454.60" cy="341.60" r="1.9" fill="#b0102a"/>
<circle cx="461.00" cy="339.50" r="1.9" fill="#b0102a"/>
<circle cx="467.90" cy="336.30" r="1.9" fill="#b0102a"/>
<circle cx="467.90" cy="349.30" r="1.9" fill="#b0102a"/>
<circle cx="473.40" cy="333.50" r="1.9" fill="#b0102a"/>
<circle cx="475.20" cy="334.10" r="1.9" fill="#b0102a"/>
<circle cx="485.90" cy="355.20" r="1.9" fill="#b0102a"/>
<circle cx="492.80" cy="326.60" r="1.9" fill="#b0102a"/>
<rect x="0.5" y="0.5" width="519" height="472" fill="none" stroke="#000" stroke-width="1"/>
</svg>
</body></html>
